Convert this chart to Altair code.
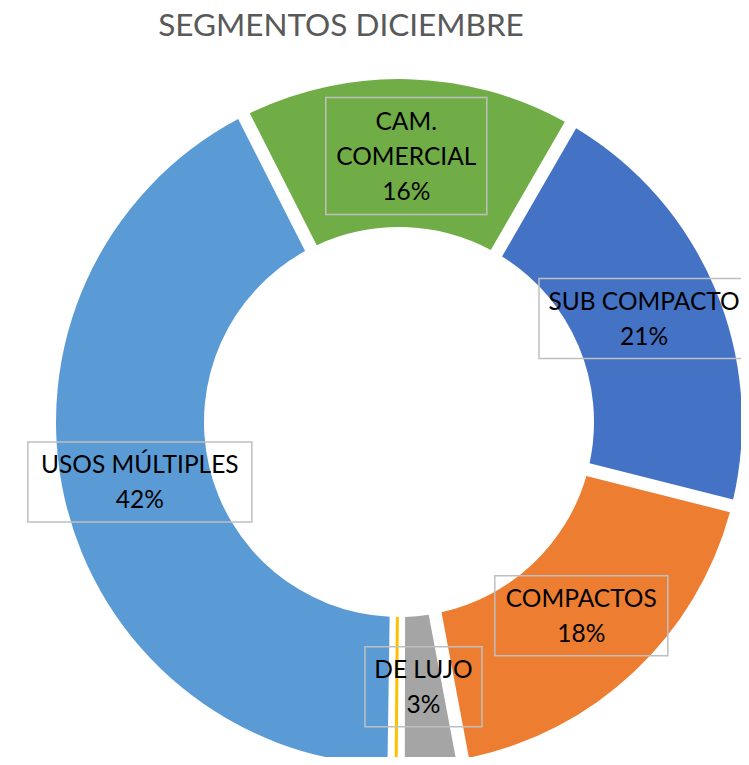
import math
import altair as alt
import pandas as pd

# ---- data ----
categories = ["SUB COMPACTO", "COMPACTOS", "DE LUJO", "DEPORTIVOS", "USOS MÚLTIPLES", "CAM. COMERCIAL"]
values = [20.6, 18.1, 3.0, 0.2, 42.3, 15.8]
label_names = ["SUB COMPACTO", "COMPACTOS", "DE LUJO", "", "USOS MÚLTIPLES", "CAM.\nCOMERCIAL"]
colors = ["#4472C4", "#ED7D31", "#A5A5A5", "#FFC000", "#5B9BD5", "#70AD47"]
title_text = "SEGMENTOS DICIEMBRE"

# ---- layout (not data) ----
box_w = [210, 173, 117, 0, 224, 161]
box_h = [80, 80, 80, 0, 80, 117]
CX, CY = 391, 414          # donut centre in plot coordinates
R_OUT, R_IN = 343, 195
R_LABEL = 266
LINE_H = 35
START = math.pi / 6        # first slice angle (30 deg)

df = pd.DataFrame({
    "cat": categories,
    "value": values,
    "name": label_names,
    "idx": list(range(len(categories))),
    "bw": box_w,
    "bh": box_h,
})

base = alt.Chart(df)

arcs = base.mark_arc(
    innerRadius=R_IN, outerRadius=R_OUT, padAngle=0.033, stroke="#FFC000"
).encode(
    theta=alt.Theta("value:Q", stack=True,
                    scale=alt.Scale(range=[START, START + 2 * math.pi])),
    order=alt.Order("idx:Q"),
    color=alt.Color("cat:N", scale=alt.Scale(domain=categories, range=colors), legend=None),
    strokeWidth=alt.condition(alt.datum.cat == "DEPORTIVOS", alt.value(3), alt.value(0)),
    x=alt.value(CX),
    y=alt.value(CY),
)

lab = base.transform_joinaggregate(
    total="sum(value)"
).transform_window(
    cum="sum(value)", sort=[alt.SortField("idx")], frame=[None, 0]
).transform_calculate(
    mid=f"{START} + 2*PI*(datum.cum - datum.value/2)/datum.total",
).transform_calculate(
    lx=f"{CX} + {R_LABEL}*sin(datum.mid)",
    ly=f"{CY} - {R_LABEL}*cos(datum.mid)",
    txt="datum.name + '\\n' + format(datum.value/datum.total, '.0%')",
).transform_calculate(
    nl="length(split(datum.txt, '\\n'))",
    bx1="datum.lx - datum.bw/2",
    bx2="datum.lx + datum.bw/2",
    by1="datum.ly - datum.bh/2",
    by2="datum.ly + datum.bh/2",
).transform_calculate(
    ty=f"datum.ly - (datum.nl - 1) * {LINE_H} / 2 + 2",
).transform_filter("datum.bw > 0")

boxes = lab.mark_rect(fillOpacity=0, stroke="#BFBFBF", strokeWidth=1.5).encode(
    x=alt.X("bx1:Q", scale=None, axis=None),
    x2="bx2:Q",
    y=alt.Y("by1:Q", scale=None, axis=None),
    y2="by2:Q",
)

texts = lab.mark_text(
    font="Lato", fontSize=24.5, color="#000000", lineBreak="\n", lineHeight=LINE_H,
    align="center", baseline="middle",
).encode(
    x=alt.X("lx:Q", scale=None, axis=None),
    y=alt.Y("ty:Q", scale=None, axis=None),
    text="txt:N",
)

title = alt.Chart(pd.DataFrame({"t": [title_text]})).mark_text(
    font="Lato", fontSize=31.5, color="#595959", align="center", baseline="middle",
).encode(
    x=alt.value(333), y=alt.value(18.5), text="t:N"
)

chart = alt.layer(arcs, boxes, texts, title).properties(
    width=733, height=749, autosize=alt.AutoSizeParams(type="none"), padding=0,
).configure_view(stroke=None)

chart.save("out.html", embed_options={"renderer": "svg", "actions": False})
